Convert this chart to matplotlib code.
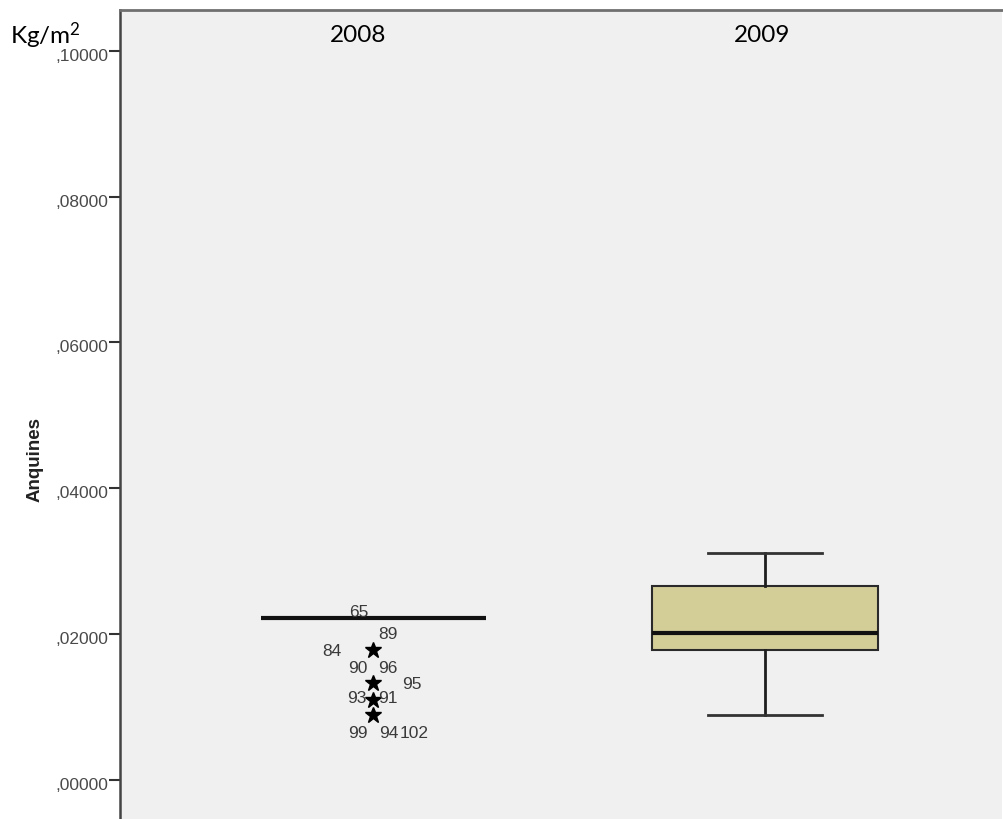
import matplotlib
matplotlib.use("Agg")
import matplotlib.pyplot as plt
import matplotlib.transforms as mtransforms

# ---- data ----
categories = ["2008", "2009"]
whislo = [0.02217, 0.00891]
q1 = [0.02217, 0.01783]
med = [0.02217, 0.02012]
q3 = [0.02217, 0.02660]
whishi = [0.02217, 0.03108]
fliers_2008 = [0.01783, 0.01326, 0.01097, 0.00891]
fliers_2009 = []

# case labels: (text, anchor value, dx px, dy px) for 2008 group
case_labels = ["65", "89", "84", "90", "96", "95", "93", "91", "99", "94", "102"]
case_values = [0.02217, 0.01783, 0.01783, 0.01326, 0.01326, 0.01326,
               0.01097, 0.01097, 0.00891, 0.00891, 0.00891]
case_dx = [-15, 14, -42, -16, 14, 38, -17, 14, -16, 15, 41]
case_dy = [7, 17, 0, 16, 16, 0, 3, 3, -17, -17, -17]

yticks = [0.0, 0.02, 0.04, 0.06, 0.08, 0.10]

plt.rcParams["mathtext.fontset"] = "custom"
plt.rcParams["mathtext.rm"] = "Lato"
plt.rcParams["mathtext.it"] = "Lato:italic"

W, H = 1004, 819
fig = plt.figure(figsize=(W / 100, H / 100), dpi=100)
left, right, top, bottom = 120.5, 1002, 10, 819
ax = fig.add_axes([left / W, 1 - bottom / H, (right - left) / W, (bottom - top) / H])
ax.set_facecolor("#f0f0f0")

stats = []
fl = [fliers_2008, fliers_2009]
for i, c in enumerate(categories):
    stats.append(dict(label=c, whislo=whislo[i], q1=q1[i], med=med[i],
                      q3=q3[i], whishi=whishi[i], fliers=fl[i]))

ax.bxp(stats, positions=[0, 1], widths=0.577, capwidths=0.289,
       patch_artist=True, showfliers=True,
       boxprops=dict(facecolor="#d3ce98", edgecolor="#2a2a2a", linewidth=1.5),
       medianprops=dict(color="#111111", linewidth=3.0),
       whiskerprops=dict(color="#1e1e1e", linewidth=2.0),
       capprops=dict(color="#333333", linewidth=2.0),
       flierprops=dict(marker="*", markersize=12, markerfacecolor="black",
                       markeredgecolor="black", linestyle="none"))

# case number labels
for t, v, dx, dy in zip(case_labels, case_values, case_dx, case_dy):
    ax.annotate(t, xy=(0, v), xytext=(dx, dy), textcoords="offset pixels",
                ha="center", va="center_baseline", fontsize=12.5,
                family="Liberation Sans", color="#3a3a3a")

ax.set_xlim(-0.6462, 1.6054)
ax.set_ylim(-0.00535, 0.10558)

ax.set_yticks(yticks)
ax.set_yticklabels(["," + f"{v:.5f}".split(".")[1] for v in yticks],
                   fontsize=12.5, family="Liberation Sans", color="#4a4a4a")
ax.tick_params(axis="y", direction="out", length=8, width=1.5, color="#333333", pad=1)
shift = mtransforms.ScaledTranslation(0, -4 / 100, fig.dpi_scale_trans)
for lab in ax.get_yticklabels():
    lab.set_transform(lab.get_transform() + shift)
ax.set_xticks([])

for s in ["right", "bottom"]:
    ax.spines[s].set_visible(False)
ax.spines["left"].set_color("#444444")
ax.spines["left"].set_linewidth(1.8)
ax.spines["top"].set_color("#707070")
ax.spines["top"].set_linewidth(2.0)

# category labels at top
label_dx = [-15, -3]
for i, c in enumerate(categories):
    ax.annotate(c, xy=(i, 1), xycoords=("data", "axes fraction"),
                xytext=(label_dx[i], -32), textcoords="offset pixels",
                ha="center", va="baseline", fontsize=17.5, family="Lato",
                color="black")

fig.text(35 / W, 1 - 459 / H, "Anquines", rotation=90, ha="center", va="center",
         fontsize=13.5, fontweight="bold", family="Liberation Sans", color="#222222")
fig.text(10 / W, 1 - 44 / H, r"Kg/m$^{\mathrm{2}}$", ha="left", va="baseline",
         fontsize=17.5, family="Lato", color="black")

fig.savefig("out.png", dpi=100)
